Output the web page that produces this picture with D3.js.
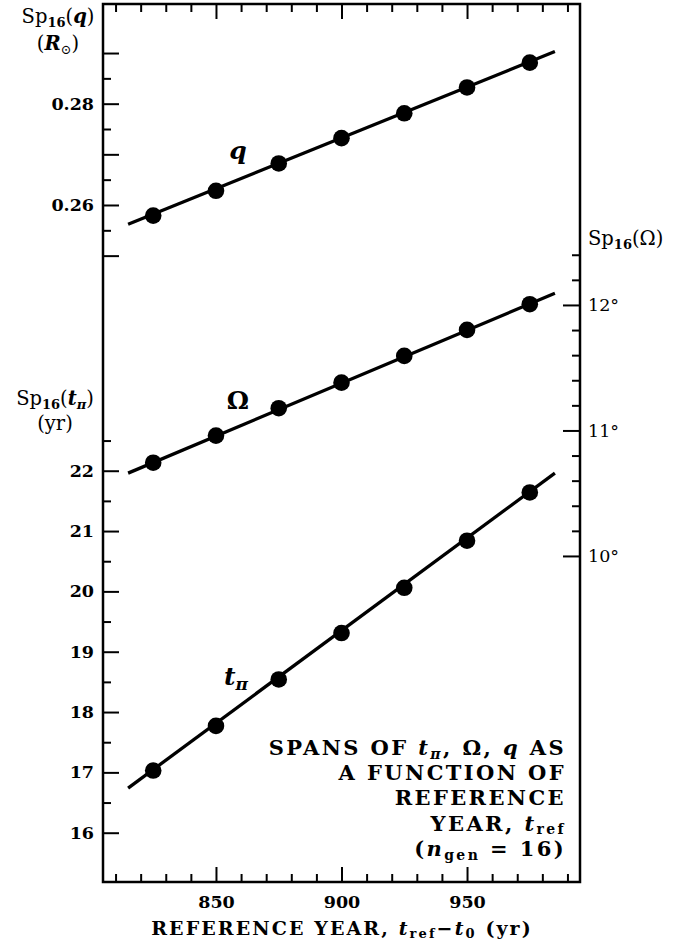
<!DOCTYPE html>
<html>
<head>
<meta charset="utf-8">
<script src="https://cdn.jsdelivr.net/npm/d3@7"></script>
<style>
  body { margin: 0; background: #fff; }
  svg { display: block; }
  text { font-family: "DejaVu Serif", serif; fill: #000; }
</style>
</head>
<body>
<svg id="chart" width="696" height="947"></svg>
<script>
// Reference years at which the spans were evaluated
const years = [825, 850, 875, 900, 925, 950, 975];
// Span of the separation q (solar radii)
const qSpan = [0.2579, 0.2628, 0.2682, 0.2732, 0.2781, 0.2832, 0.2881];
// Span of the node angle Omega (degrees)
const omegaSpan = [10.743, 10.959, 11.177, 11.381, 11.594, 11.801, 12.006];
// Span of the periastron time t_pi (years)
const tpiSpan = [17.03, 17.77, 18.54, 19.31, 20.06, 20.84, 21.64];

// Straight-line trends, given at their two end years
const trendYears = [815, 985];
const qTrend = [0.2562, 0.2903];
const omegaTrend = [10.66, 12.093];
const tpiTrend = [16.74, 21.96];

// Tick values
const yearMajor = [850, 900, 950];
const yearMinor = [810, 820, 830, 840, 860, 870, 880, 890, 910, 920, 930, 940, 960, 970, 980, 990];
const qMajor = [0.25, 0.26, 0.27, 0.28, 0.29];
const qLabelled = [0.26, 0.28];
const qMinor = [0.255, 0.265, 0.275, 0.285];
const tpiMajor = [16, 17, 18, 19, 20, 21, 22];
const tpiMinor = [16.5, 17.5, 18.5, 19.5, 20.5, 21.5, 22.5];
const omegaMajor = [10, 11, 12];
const omegaMinor = [10.2, 10.4, 10.6, 10.8, 11.2, 11.4, 11.6, 11.8, 12.2, 12.4];

// Plot frame
const L = 103, R = 580, T = 4, B = 882;

const svg = d3.select("#chart");
svg.append("rect").attr("width", 696).attr("height", 947).attr("fill", "#fff");

const x = d3.scaleLinear().domain([805, 995]).range([L, R]);
const yQ = d3.scaleLinear().domain([0.12634, 0.29968]).range([B, T]);
const yT = d3.scaleLinear().domain([15.183, 29.736]).range([B, T]);
const yO = d3.scaleLinear().domain([7.402, 14.398]).range([B, T]);

// Text with italic / subscript runs
function rich(g, px, py, parts, opts) {
  const t = g.append("text").attr("x", px).attr("y", py)
    .attr("text-anchor", opts.anchor || "start")
    .style("font-size", opts.size + "px")
    .style("font-weight", opts.weight || "normal")
    .style("letter-spacing", (opts.ls || 0) + "px");
  let shift = 0;
  parts.forEach(p => {
    const [str, kind, w] = typeof p === "string" ? [p, "n"] : p;
    const s = t.append("tspan").text(str);
    let target = 0;
    if (kind === "i" || kind === "si") s.style("font-style", "italic");
    if (kind === "s" || kind === "si") {
      s.style("font-size", Math.round(opts.size * 0.68) + "px");
      target = opts.size * 0.18;
    }
    if (w) s.style("font-weight", w);
    const dy = target - shift;
    if (dy) s.attr("dy", dy.toFixed(2));
    shift = target;
  });
  return t;
}

function styleAxis(g, labelSize, labelWeight) {
  g.select(".domain").remove();
  g.selectAll(".tick line").attr("stroke", "#000").attr("stroke-width", 2);
  g.selectAll(".tick text")
    .attr("fill", "#000")
    .style("font-family", "DejaVu Serif, serif")
    .style("font-size", labelSize + "px")
    .style("font-weight", labelWeight);
}

// Year axes (top and bottom, ticks pointing inward)
svg.append("g").attr("transform", `translate(0,${T})`)
  .call(d3.axisTop(x).tickValues(yearMajor).tickSize(-15).tickFormat(""))
  .call(g => styleAxis(g, 17, "bold"));
svg.append("g").attr("transform", `translate(0,${T})`)
  .call(d3.axisTop(x).tickValues(yearMinor).tickSize(-8).tickFormat(""))
  .call(g => styleAxis(g, 17, "bold"));
svg.append("g").attr("transform", `translate(0,${B})`)
  .call(d3.axisBottom(x).tickValues(yearMajor).tickSize(-15).tickPadding(14).tickFormat(d3.format("d")))
  .call(g => styleAxis(g, 17.5, "bold"));
svg.append("g").attr("transform", `translate(0,${B})`)
  .call(d3.axisBottom(x).tickValues(yearMinor).tickSize(-8).tickFormat(""))
  .call(g => styleAxis(g, 17, "bold"));

// Left axis: q (upper part)
svg.append("g").attr("transform", `translate(${L},0)`)
  .call(d3.axisLeft(yQ).tickValues(qMajor).tickSize(-16).tickPadding(9)
    .tickFormat(d => qLabelled.some(v => Math.abs(v - d) < 1e-9) ? d3.format(".2f")(d) : ""))
  .call(g => styleAxis(g, 17.5, "bold"));
svg.append("g").attr("transform", `translate(${L},0)`)
  .call(d3.axisLeft(yQ).tickValues(qMinor).tickSize(-8).tickFormat(""))
  .call(g => styleAxis(g, 17, "bold"));

// Left axis: t_pi (lower part)
svg.append("g").attr("transform", `translate(${L},0)`)
  .call(d3.axisLeft(yT).tickValues(tpiMajor).tickSize(-16).tickPadding(9).tickFormat(d3.format("d")))
  .call(g => styleAxis(g, 17.5, "bold"));
svg.append("g").attr("transform", `translate(${L},0)`)
  .call(d3.axisLeft(yT).tickValues(tpiMinor).tickSize(-8).tickFormat(""))
  .call(g => styleAxis(g, 17, "bold"));

// Right axis: Omega
svg.append("g").attr("transform", `translate(${R},0)`)
  .call(d3.axisRight(yO).tickValues(omegaMajor).tickSize(-17).tickPadding(8).tickFormat(d => d + "°"))
  .call(g => styleAxis(g, 17.5, "normal"));
svg.append("g").attr("transform", `translate(${R},0)`)
  .call(d3.axisRight(yO).tickValues(omegaMinor).tickSize(-8).tickFormat(""))
  .call(g => styleAxis(g, 17, "normal"));

// Frame
svg.append("rect").attr("x", L).attr("y", T).attr("width", R - L).attr("height", B - T)
  .attr("fill", "none").attr("stroke", "#000").attr("stroke-width", 2.5);

// Series: trend line plus points
const series = [
  { vals: qSpan, trend: qTrend, y: yQ },
  { vals: omegaSpan, trend: omegaTrend, y: yO },
  { vals: tpiSpan, trend: tpiTrend, y: yT }
];
series.forEach(s => {
  const line = d3.line().x(d => x(d[0])).y(d => s.y(d[1]));
  svg.append("path")
    .datum(d3.zip(trendYears, s.trend))
    .attr("d", line)
    .attr("fill", "none").attr("stroke", "#000").attr("stroke-width", 3.3);
  svg.append("g").selectAll("circle")
    .data(d3.zip(years, s.vals))
    .join("circle")
    .attr("cx", d => x(d[0])).attr("cy", d => s.y(d[1]))
    .attr("r", 8.3).attr("fill", "#000");
});

// Series names
rich(svg, 238, 159, [["q", "i"]], { size: 25, weight: "bold", anchor: "middle" });
rich(svg, 238, 409, ["Ω"], { size: 25, weight: "bold", anchor: "middle" });
rich(svg, 224, 685, [["t", "i"], ["π", "si"]], { size: 25, weight: "bold" });

// Axis titles
rich(svg, 58, 23, ["Sp", ["16", "s", "bold"], "(", ["q", "i", "bold"], ")"], { size: 19.5, anchor: "middle" });
rich(svg, 58, 50, ["(", ["R", "i", "bold"], ["⊙", "s"], ")"], { size: 19.5, anchor: "middle" });
rich(svg, 55, 405, ["Sp", ["16", "s", "bold"], "(", ["t", "i", "bold"], ["π", "si", "bold"], ")"], { size: 19.5, anchor: "middle" });
rich(svg, 55, 430, ["(yr)"], { size: 19.5, anchor: "middle" });
rich(svg, 588, 245, ["Sp", ["16", "s", "bold"], "(Ω)"], { size: 19.5 });

rich(svg, 342, 935,
  ["REFERENCE YEAR, ", ["t", "i"], ["ref", "s"], "−", ["t", "i"], ["0", "s"], " (yr)"],
  { size: 19, weight: "bold", anchor: "middle", ls: 2.1 });

// Caption inside the plot
const caption = [
  ["SPANS OF ", ["t", "i"], ["π", "si"], ", Ω, ", ["q", "i"], " AS"],
  ["A FUNCTION OF"],
  ["REFERENCE"],
  ["YEAR, ", ["t", "i"], ["ref", "s"]],
  ["(", ["n", "i"], ["gen", "s"], " = 16)"]
];
caption.forEach((parts, i) => {
  rich(svg, 566, 755 + i * 25.2, parts, { size: 21, weight: "bold", anchor: "end", ls: 2.4 });
});
</script>
</body>
</html>
